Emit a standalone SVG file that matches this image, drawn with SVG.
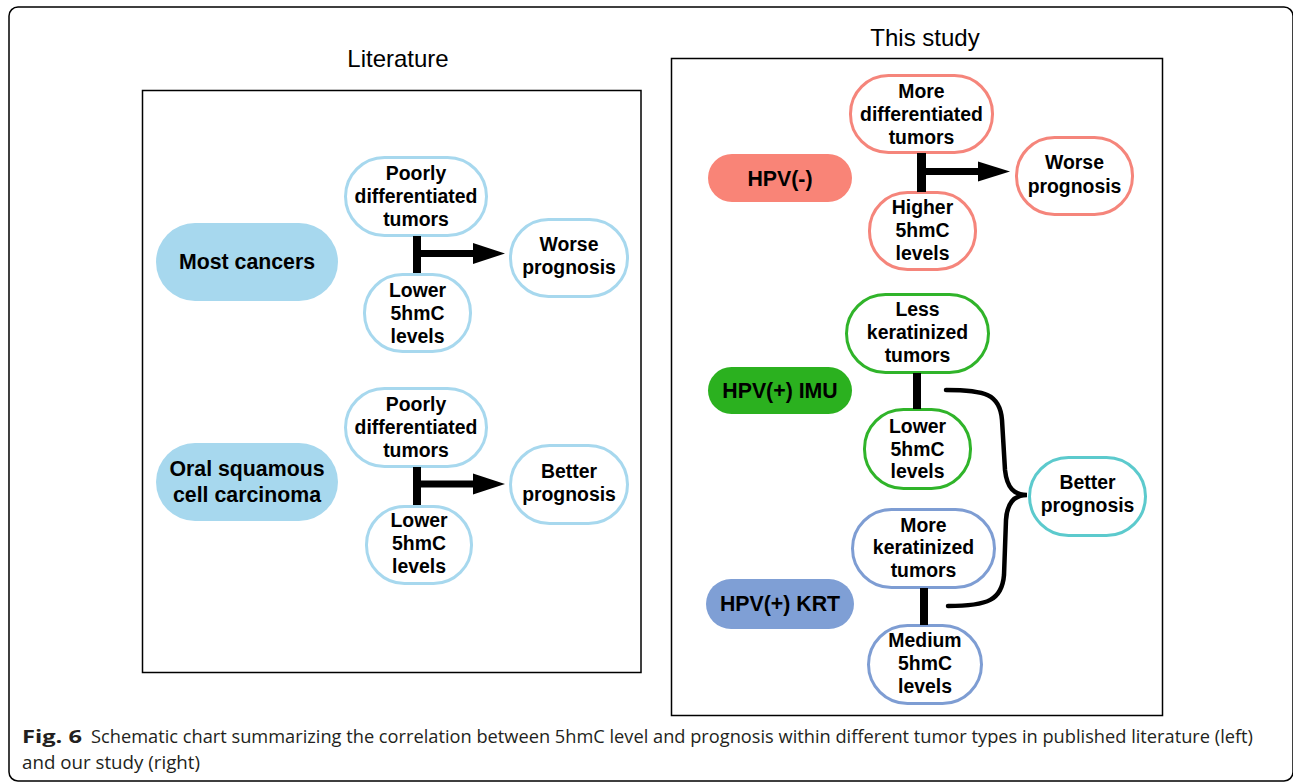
<svg xmlns="http://www.w3.org/2000/svg" width="1293" height="782" viewBox="0 0 1293 782">
<style>
.t{font-family:"Liberation Sans",Arial,sans-serif;font-weight:bold;font-size:19.4px;fill:#000;text-anchor:middle}
.pt{font-family:"Liberation Sans",Arial,sans-serif;font-weight:bold;font-size:21.3px;fill:#000;text-anchor:middle}
.title{font-family:"Liberation Sans",Arial,sans-serif;font-size:24px;fill:#000;text-anchor:middle}
.cap{font-family:"Open Sans","Liberation Sans",sans-serif;font-size:18px;fill:#231f20}
.nb{fill:#fff;stroke-width:3}
.lb{stroke:#a7d8ee}.rd{stroke:#f5857b}.gr{stroke:#30b42a}.bl{stroke:#7e9dd3}.cy{stroke:#5ccacd}
.bar{stroke:#000;fill:none}
</style>
<rect x="9" y="7" width="1284" height="774" rx="9" fill="#fff" stroke="#000" stroke-width="1.5"/>
<rect x="142.5" y="90.5" width="498.5" height="582" fill="none" stroke="#000" stroke-width="1.5"/>
<rect x="671.5" y="58.5" width="491" height="657" fill="none" stroke="#000" stroke-width="1.5"/>
<text class="title" x="398" y="67">Literature</text>
<text class="title" x="925" y="46">This study</text>

<g id="most-cancers"><rect x="156" y="223" width="182" height="78" rx="39" fill="#a7d8ee"/><text class="pt" x="247" y="269">Most cancers</text></g>
<g id="poorly-1"><rect class="nb lb" x="345.5" y="157.5" width="141" height="78" rx="39"/><text class="t" x="416" y="180">Poorly</text><text class="t" x="416" y="203">differentiated</text><text class="t" x="416" y="226">tumors</text></g>
<g id="lower-1"><rect class="nb lb" x="364.5" y="274.5" width="106" height="77" rx="38"/><text class="t" x="417.5" y="297">Lower</text><text class="t" x="417.5" y="320">5hmC</text><text class="t" x="417.5" y="343">levels</text></g>
<g id="worse-1"><rect class="nb lb" x="510.5" y="219.5" width="117" height="77" rx="38"/><text class="t" x="569" y="251">Worse</text><text class="t" x="569" y="274">prognosis</text></g>

<g id="oscc"><rect x="156" y="443" width="182" height="78" rx="39" fill="#a7d8ee"/><text class="pt" x="247" y="476">Oral squamous</text><text class="pt" x="247" y="502">cell carcinoma</text></g>
<g id="poorly-2"><rect class="nb lb" x="345.5" y="388.5" width="141" height="78" rx="39"/><text class="t" x="416" y="411">Poorly</text><text class="t" x="416" y="434">differentiated</text><text class="t" x="416" y="457">tumors</text></g>
<g id="lower-2"><rect class="nb lb" x="366.5" y="506.5" width="105" height="77" rx="38"/><text class="t" x="419" y="527">Lower</text><text class="t" x="419" y="550">5hmC</text><text class="t" x="419" y="573">levels</text></g>
<g id="better-1"><rect class="nb lb" x="510.5" y="445.5" width="117" height="78" rx="39"/><text class="t" x="569" y="478">Better</text><text class="t" x="569" y="501">prognosis</text></g>

<g id="hpv-neg"><rect x="708" y="154" width="144" height="48" rx="24" fill="#f98477"/><text class="pt" x="780" y="186">HPV(-)</text></g>
<g id="more-diff"><rect class="nb rd" x="850.5" y="75.5" width="142" height="77" rx="38"/><text class="t" x="921.5" y="98">More</text><text class="t" x="921.5" y="121">differentiated</text><text class="t" x="921.5" y="144">tumors</text></g>
<g id="higher"><rect class="nb rd" x="869.5" y="192.5" width="106" height="77" rx="38"/><text class="t" x="922.5" y="214">Higher</text><text class="t" x="922.5" y="237">5hmC</text><text class="t" x="922.5" y="260">levels</text></g>
<g id="worse-2"><rect class="nb rd" x="1016.5" y="137.5" width="116" height="77" rx="38"/><text class="t" x="1074.5" y="169">Worse</text><text class="t" x="1074.5" y="193">prognosis</text></g>

<g id="hpv-imu"><rect x="708" y="367" width="144" height="47" rx="23.5" fill="#2bb11f"/><text class="pt" x="780" y="398">HPV(+) IMU</text></g>
<g id="less-ker"><rect class="nb gr" x="846.5" y="294.5" width="142" height="78" rx="39"/><text class="t" x="917.5" y="316">Less</text><text class="t" x="917.5" y="339">keratinized</text><text class="t" x="917.5" y="362">tumors</text></g>
<g id="lower-3"><rect class="nb gr" x="864.5" y="409.5" width="106" height="79" rx="39"/><text class="t" x="917.5" y="433">Lower</text><text class="t" x="917.5" y="456">5hmC</text><text class="t" x="917.5" y="478">levels</text></g>
<g id="better-2"><rect class="nb cy" x="1029.5" y="457.5" width="116" height="78" rx="39"/><text class="t" x="1087.5" y="489">Better</text><text class="t" x="1087.5" y="512">prognosis</text></g>

<g id="hpv-krt"><rect x="706" y="579" width="148" height="50" rx="25" fill="#7f9fd5"/><text class="pt" x="780" y="611">HPV(+) KRT</text></g>
<g id="more-ker"><rect class="nb bl" x="852.5" y="509.5" width="142" height="78" rx="39"/><text class="t" x="923.5" y="532">More</text><text class="t" x="923.5" y="554">keratinized</text><text class="t" x="923.5" y="577">tumors</text></g>
<g id="medium"><rect class="nb bl" x="868.5" y="625.5" width="113" height="78" rx="39"/><text class="t" x="925" y="647">Medium</text><text class="t" x="925" y="670">5hmC</text><text class="t" x="925" y="693">levels</text></g>

<g id="connectors">
<line class="bar" x1="417" y1="236" x2="417" y2="273" stroke-width="8"/>
<line class="bar" x1="417" y1="253.5" x2="475" y2="253.5" stroke-width="7"/>
<polygon points="473,243 505,253.5 473,264" fill="#000"/>
<line class="bar" x1="417" y1="467" x2="417" y2="505" stroke-width="8"/>
<line class="bar" x1="417" y1="484" x2="475" y2="484" stroke-width="7"/>
<polygon points="473,473.5 505,484 473,494.5" fill="#000"/>
<line class="bar" x1="921.5" y1="153" x2="921.5" y2="192" stroke-width="9"/>
<line class="bar" x1="921.5" y1="171.5" x2="980" y2="171.5" stroke-width="7"/>
<polygon points="978,161.5 1010,171.5 978,181.5" fill="#000"/>
<line class="bar" x1="917" y1="373" x2="917" y2="409" stroke-width="8"/>
<line class="bar" x1="924" y1="588" x2="924" y2="625" stroke-width="8"/>
<path class="bar" stroke-width="4.5" stroke-linecap="round" d="M946 390 C985 390 1000 394 1002 420 L1005 470 C1007 488 1014 495 1027 495 C1014 495 1007 503 1006 520 L1004 575 C1002 600 988 606 948 606"/>
</g>

<text class="cap" x="22" y="743" font-weight="bold" textLength="60" lengthAdjust="spacingAndGlyphs">Fig. 6</text>
<text class="cap" x="91" y="743" textLength="1162" lengthAdjust="spacingAndGlyphs">Schematic chart summarizing the correlation between 5hmC level and prognosis within different tumor types in published literature (left)</text>
<text class="cap" x="22" y="769" textLength="178" lengthAdjust="spacingAndGlyphs">and our study (right)</text>
</svg>
